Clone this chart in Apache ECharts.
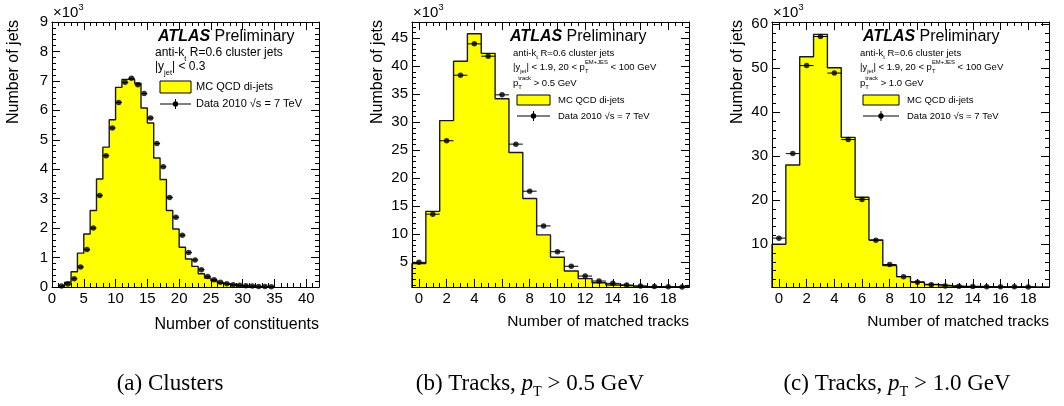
<!DOCTYPE html>
<html>
<head>
<meta charset="utf-8">
<script src="https://cdn.jsdelivr.net/npm/echarts@6/dist/echarts.min.js"></script>
<style>
html, body { margin: 0; padding: 0; background: #fff; }
#main { width: 1064px; height: 406px; }
</style>
</head>
<body>
<div id="main"></div>
<script>
// values are in thousands of jets (axes carry the x10^3)
var constituentBins = [1.5, 2.5, 3.5, 4.5, 5.5, 6.5, 7.5, 8.5, 9.5, 10.5, 11.5, 12.5, 13.5, 14.5, 15.5, 16.5, 17.5,
  18.5, 19.5, 20.5, 21.5, 22.5, 23.5, 24.5, 25.5, 26.5, 27.5, 28.5, 29.5, 30.5, 31.5, 32.5, 33.5, 34.5];
var constituentMC = [0.05, 0.16, 0.52, 1.15, 1.80, 2.60, 3.67, 4.75, 5.68, 6.78, 7.05, 7.05, 6.92, 6.08, 5.57, 4.38, 3.65,
  2.60, 1.97, 1.35, 0.95, 0.70, 0.45, 0.30, 0.21, 0.14, 0.09, 0.06, 0.04, 0.03, 0.02, 0.015, 0.01, 0.01];
var constituentData = [0.03, 0.10, 0.28, 0.68, 1.27, 2.00, 3.11, 4.46, 5.40, 6.27, 6.95, 7.09, 6.87, 6.57, 5.74, 4.87, 4.08,
  3.04, 2.37, 1.76, 1.17, 0.92, 0.59, 0.36, 0.25, 0.16, 0.11, 0.08, 0.06, 0.04, 0.03, 0.02, 0.015, 0.01];

var trackBins = [0, 1, 2, 3, 4, 5, 6, 7, 8, 9, 10, 11, 12, 13, 14, 15, 16, 17, 18, 19];
var tracks05MC = [4.8, 14.1, 30.3, 40.9, 45.8, 42.3, 34.2, 24.6, 16.4, 9.9, 5.9, 3.45, 2.1, 1.35, 0.95, 0.8, 0.7, 0.65, 0.62, 0.61];
var tracks05Data = [5.0, 13.6, 26.7, 38.4, 44.0, 41.8, 34.9, 26.1, 17.7, 11.5, 6.9, 4.3, 2.55, 1.66, 1.25, 0.95, 0.77, 0.68, 0.64, 0.62];
var tracks10MC = [10.0, 28.0, 52.6, 57.7, 50.1, 34.3, 20.7, 11.0, 5.15, 2.65, 1.45, 0.9, 0.6, 0.45, 0.4, 0.35, 0.33, 0.32, 0.31, 0.3];
var tracks10Data = [11.4, 30.6, 50.6, 57.2, 48.9, 33.8, 20.2, 10.9, 5.4, 2.65, 1.4, 0.8, 0.55, 0.45, 0.4, 0.36, 0.34, 0.33, 0.32];

var constituentTicks = [0, 5, 10, 15, 20, 25, 30, 35, 40];
var trackTicks = [0, 2, 4, 6, 8, 10, 12, 14, 16, 18];
var jetTicksA = [0, 1, 2, 3, 4, 5, 6, 7, 8, 9];
var jetTicksB = [5, 10, 15, 20, 25, 30, 35, 40, 45];
var jetTicksC = [10, 20, 30, 40, 50, 60];

var SANS = "'Liberation Sans', Arial, Helvetica, sans-serif";
var SERIF = "'Liberation Serif', 'Times New Roman', serif";

function steps(a, b, step) {
  var out = [];
  for (var v = a; v <= b + 1e-9; v += step) out.push(Math.round(v * 1000) / 1000);
  return out;
}

function histPoints(bins, vals) {
  var pts = [[bins[0] - 0.5, 0]];
  for (var i = 0; i < bins.length; i++) {
    pts.push([bins[i] - 0.5, vals[i]]);
    pts.push([bins[i] + 0.5, vals[i]]);
  }
  pts.push([bins[bins.length - 1] + 0.5, 0]);
  return pts;
}

function pairs(bins, vals) {
  return vals.map(function (v, i) { return [bins[i], v]; });
}

function axis(gi, pos, range, ticks, len, showLine, labels) {
  return {
    type: 'value', gridIndex: gi, position: pos, min: range[0], max: range[1], z: 10,
    axisLine: { show: showLine, onZero: false, lineStyle: { color: '#000', width: 1 } },
    axisTick: { show: true, inside: true, length: len, customValues: ticks, lineStyle: { color: '#000', width: 1 } },
    axisLabel: labels ? { show: true, customValues: labels, color: '#000', fontFamily: SANS, fontSize: 15, margin: 4 } : { show: false },
    splitLine: { show: false }
  };
}

var panels = [
  { box: [52, 22, 267, 265], xr: [0, 42], xMajor: constituentTicks, xMinor: steps(0, 42, 1),
    yr: [0, 9], yMajor: jetTicksA, yMinor: steps(0, 9, 0.2),
    bins: constituentBins, mc: constituentMC, data: constituentData },
  { box: [412, 22, 277, 265], xr: [-0.5, 19.5], xMajor: trackTicks, xMinor: steps(-0.5, 19.5, 0.5),
    yr: [0.6, 47.9], yMajor: jetTicksB, yMinor: steps(1, 47, 1),
    bins: trackBins, mc: tracks05MC, data: tracks05Data },
  { box: [772, 22, 277, 265], xr: [-0.5, 19.5], xMajor: trackTicks, xMinor: steps(-0.5, 19.5, 0.5),
    yr: [0.3, 60.5], yMajor: jetTicksC, yMinor: steps(2, 60, 2),
    bins: trackBins, mc: tracks10MC, data: tracks10Data }
];

var grids = [], xAxes = [], yAxes = [], series = [];
panels.forEach(function (p, i) {
  grids.push({ left: p.box[0], top: p.box[1], width: p.box[2], height: p.box[3], outerBoundsMode: 'none' });
  xAxes.push(axis(i, 'bottom', p.xr, p.xMajor, 8, true, p.xMajor));
  xAxes.push(axis(i, 'bottom', p.xr, p.xMinor, 4, false, null));
  xAxes.push(axis(i, 'top', p.xr, p.xMajor, 8, true, null));
  xAxes.push(axis(i, 'top', p.xr, p.xMinor, 4, false, null));
  yAxes.push(axis(i, 'left', p.yr, p.yMajor, 8, true, p.yMajor));
  yAxes.push(axis(i, 'left', p.yr, p.yMinor, 4, false, null));
  yAxes.push(axis(i, 'right', p.yr, p.yMajor, 8, true, null));
  yAxes.push(axis(i, 'right', p.yr, p.yMinor, 4, false, null));

  series.push({
    type: 'line', xAxisIndex: 4 * i, yAxisIndex: 4 * i, data: histPoints(p.bins, p.mc),
    symbol: 'none', silent: true, z: 2,
    lineStyle: { color: '#1a1a1a', width: 1.4 },
    areaStyle: { color: '#ffff00', opacity: 1, origin: 'start' }
  });
  series.push({
    type: 'custom', xAxisIndex: 4 * i, yAxisIndex: 4 * i, data: pairs(p.bins, p.data), z: 3, silent: true,
    renderItem: function (params, api) {
      var x = api.value(0), y = api.value(1);
      var a = api.coord([x - 0.5, y]), b = api.coord([x + 0.5, y]);
      return { type: 'line', shape: { x1: a[0], y1: a[1], x2: b[0], y2: b[1] }, style: { stroke: '#000', lineWidth: 1 } };
    }
  });
  series.push({
    type: 'scatter', xAxisIndex: 4 * i, yAxisIndex: 4 * i, data: pairs(p.bins, p.data), z: 4, silent: true,
    symbol: 'circle', symbolSize: 5.5, itemStyle: { color: '#000' }
  });
});

function rich(fs, family, drop) {
  family = family || SANS;
  var lh = fs * (drop || 1.5);
  return {
    n: { fontSize: fs, fontFamily: family, fill: '#000', lineHeight: lh, verticalAlign: 'middle' },
    i: { fontSize: fs, fontFamily: family, fontStyle: 'italic', fill: '#000', lineHeight: lh, verticalAlign: 'middle' },
    b: { fontSize: fs, fontFamily: family, fontStyle: 'italic', fontWeight: 'bold', fill: '#000', lineHeight: lh, verticalAlign: 'middle' },
    sb: { fontSize: fs * 0.62, fontFamily: family, fill: '#000', lineHeight: fs * 0.62, verticalAlign: 'bottom' },
    sbz: { fontSize: fs * 0.62, fontFamily: family, fill: '#000', lineHeight: fs * 0.62, verticalAlign: 'bottom', width: 0.01 },
    sp: { fontSize: fs * 0.62, fontFamily: family, fill: '#000', lineHeight: fs * 0.62, verticalAlign: 'top' }
  };
}

function txt(x, y, text, fs, align, extra) {
  extra = extra || {};
  var el = {
    type: 'text', x: x, y: y, z: 50, silent: true,
    style: { text: text, rich: rich(fs, extra.family, extra.drop), textAlign: align || 'left', textVerticalAlign: 'middle',
      fontSize: fs, fontFamily: extra.family || SANS, fill: '#000' }
  };
  if (extra.rotation) el.rotation = extra.rotation;
  return el;
}

function legend(x0, x1, boxTop, boxBottom, lineY, textX, fs) {
  var mid = (x0 + x1) / 2;
  return [
    { type: 'rect', z: 50, silent: true, shape: { x: x0, y: boxTop, width: x1 - x0, height: boxBottom - boxTop },
      style: { fill: '#ffff00', stroke: '#000', lineWidth: 1 } },
    { type: 'line', z: 50, silent: true, shape: { x1: x0, y1: lineY, x2: x1, y2: lineY }, style: { stroke: '#000', lineWidth: 1 } },
    { type: 'line', z: 50, silent: true, shape: { x1: mid, y1: lineY - 5, x2: mid, y2: lineY + 5 }, style: { stroke: '#000', lineWidth: 1 } },
    { type: 'circle', z: 50, silent: true, shape: { cx: mid, cy: lineY, r: 2.7 }, style: { fill: '#000' } },
    txt(textX, (boxTop + boxBottom) / 2, '{n|MC QCD di-jets}', fs),
    txt(textX, lineY, '{n|Data 2010 √s = 7 TeV}', fs)
  ];
}

var graphics = [];
[[52, 14], [412, 378], [772, 738]].forEach(function (g) {
  graphics.push(txt(g[0] + 1, 13, '{n|×10}{sp|3}', 15, 'left', { drop: 1.4 }));
  graphics.push(txt(g[1], 20, '{n|Number of jets}', 16, 'right', { rotation: Math.PI / 2 }));
});
graphics.push(txt(319, 325, '{n|Number of constituents}', 16, 'right'));
graphics.push(txt(689, 322, '{n|Number of matched tracks}', 15.5, 'right'));
graphics.push(txt(1049, 322, '{n|Number of matched tracks}', 15.5, 'right'));

// panel (a) labels
graphics.push(txt(158, 37, '{b|ATLAS}{n| Preliminary}', 16));
graphics.push(txt(155, 53, '{n|anti-k}{sb|t}{n| R=0.6 cluster jets}', 12));
graphics.push(txt(155, 67, '{n||y}{sb|jet}{n|| < 0.3}', 12));
graphics = graphics.concat(legend(160, 191, 81, 93, 104, 196, 11));

// panel (b) and (c) labels
[[510, 513, 517, 550, 558, '0.5'], [863, 860, 863, 899, 907, '1.0']].forEach(function (c) {
  graphics.push(txt(c[0], 37, '{b|ATLAS}{n| Preliminary}', 16));
  graphics.push(txt(c[1], 53, '{n|anti-k}{sb|t}{n| R=0.6 cluster jets}', 9.5));
  graphics.push(txt(c[1], 67, '{n||y}{sb|jet}{n|| < 1.9, 20 < p}{sbz|T}{sp|EM+JES}{n| < 100 GeV}', 9.5));
  graphics.push(txt(c[1], 83, '{n|p}{sbz|T}{sp|track}{n| > ' + c[5] + ' GeV}', 9.5));
  graphics = graphics.concat(legend(c[2], c[3], 95, 105, 116, c[4], 9.5));
});

// captions
graphics.push(txt(170, 384, '{n|(a) Clusters}', 23, 'center', { family: SERIF, drop: 1.35 }));
graphics.push(txt(530, 384, '{n|(b) Tracks, }{i|p}{sb|T}{n| > 0.5 GeV}', 23, 'center', { family: SERIF, drop: 1.35 }));
graphics.push(txt(897, 384, '{n|(c) Tracks, }{i|p}{sb|T}{n| > 1.0 GeV}', 23, 'center', { family: SERIF, drop: 1.35 }));

var chart = echarts.init(document.getElementById('main'), null, { renderer: 'canvas' });
chart.setOption({
  animation: false,
  backgroundColor: '#fff',
  grid: grids,
  xAxis: xAxes,
  yAxis: yAxes,
  series: series,
  graphic: graphics
});
window.addEventListener('resize', chart.resize);
</script>
</body>
</html>
